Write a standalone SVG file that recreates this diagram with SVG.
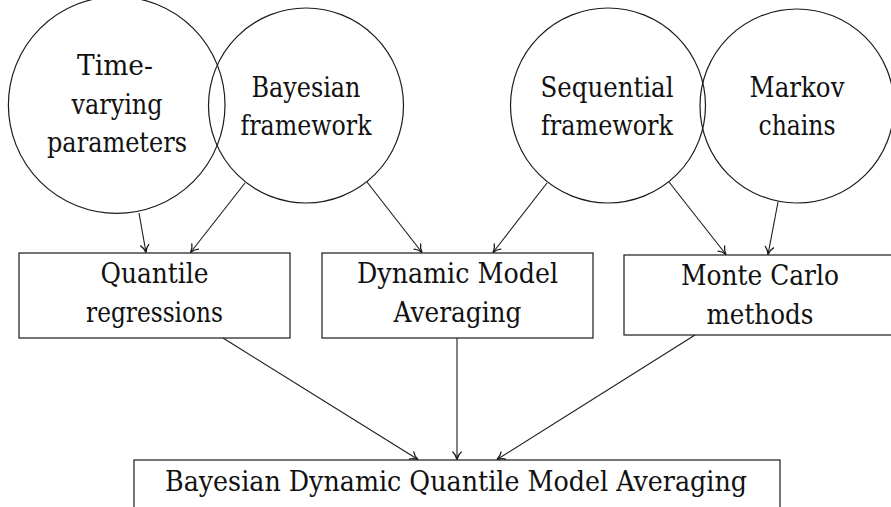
<svg xmlns="http://www.w3.org/2000/svg" width="891" height="507" viewBox="0 0 891 507">
  <style>
    .shape { fill: none; stroke: #1a1a1a; stroke-width: 1.2; }
    .edge { fill: none; stroke: #1a1a1a; stroke-width: 1.1; marker-end: url(#tip); }
    .lbl { font-family: 'DejaVu Serif', 'Liberation Serif', serif; font-size: 28px; fill: #111; text-anchor: middle; }
  </style>
  <defs>
    <marker id="tip" markerUnits="userSpaceOnUse" orient="auto" refX="0" refY="0" markerWidth="14" markerHeight="14" viewBox="-9 -7 11 14" overflow="visible">
      <path d="M-7.5,-4.2 C-5.5,-1.8 -2,-0.5 0,0 C-2,0.5 -5.5,1.8 -7.5,4.2" fill="none" stroke="#1a1a1a" stroke-width="1.3" stroke-linecap="round"/>
    </marker>
  </defs>
  <rect width="891" height="507" fill="#fff"/>

  <!-- top row: circular concept nodes -->
  <g id="time-varying">
    <circle class="shape" cx="116.7" cy="105" r="108.3"/>
    <text class="lbl" x="115" y="75" textLength="76" lengthAdjust="spacingAndGlyphs">Time-</text>
    <text class="lbl" x="117" y="113.5" textLength="91" lengthAdjust="spacingAndGlyphs">varying</text>
    <text class="lbl" x="117" y="152" textLength="140" lengthAdjust="spacingAndGlyphs">parameters</text>
  </g>
  <g id="bayesian-framework">
    <circle class="shape" cx="306" cy="105.5" r="97.5"/>
    <text class="lbl" x="306" y="97" textLength="109" lengthAdjust="spacingAndGlyphs">Bayesian</text>
    <text class="lbl" x="306" y="135" textLength="131" lengthAdjust="spacingAndGlyphs">framework</text>
  </g>
  <g id="sequential-framework">
    <circle class="shape" cx="608" cy="105.5" r="97.5"/>
    <text class="lbl" x="607" y="97" textLength="133" lengthAdjust="spacingAndGlyphs">Sequential</text>
    <text class="lbl" x="607" y="135" textLength="132" lengthAdjust="spacingAndGlyphs">framework</text>
  </g>
  <g id="markov-chains">
    <circle class="shape" cx="797" cy="106" r="97"/>
    <text class="lbl" x="797" y="97" textLength="95" lengthAdjust="spacingAndGlyphs">Markov</text>
    <text class="lbl" x="797" y="135" textLength="77" lengthAdjust="spacingAndGlyphs">chains</text>
  </g>

  <!-- middle row: method boxes -->
  <g id="quantile-regressions">
    <rect class="shape" x="19" y="253" width="271" height="85"/>
    <text class="lbl" x="154.5" y="283.3" textLength="108" lengthAdjust="spacingAndGlyphs">Quantile</text>
    <text class="lbl" x="154.5" y="321.7" textLength="137" lengthAdjust="spacingAndGlyphs">regressions</text>
  </g>
  <g id="dynamic-model-averaging">
    <rect class="shape" x="322" y="253" width="271" height="85"/>
    <text class="lbl" x="457.5" y="283.3" textLength="201" lengthAdjust="spacingAndGlyphs">Dynamic Model</text>
    <text class="lbl" x="457.5" y="321.7" textLength="128" lengthAdjust="spacingAndGlyphs">Averaging</text>
  </g>
  <g id="monte-carlo">
    <rect class="shape" x="624" y="255" width="272" height="80"/>
    <text class="lbl" x="760" y="285" textLength="158" lengthAdjust="spacingAndGlyphs">Monte Carlo</text>
    <text class="lbl" x="760" y="324" textLength="107" lengthAdjust="spacingAndGlyphs">methods</text>
  </g>

  <!-- bottom: combined method -->
  <g id="bdqma">
    <rect class="shape" x="134" y="460" width="646" height="70"/>
    <text class="lbl" x="456" y="491" textLength="582" lengthAdjust="spacingAndGlyphs">Bayesian Dynamic Quantile Model Averaging</text>
  </g>

  <!-- connectors -->
  <g id="connectors">
    <line class="edge" x1="139" y1="213" x2="146" y2="252.5"/>
    <line class="edge" x1="245" y1="183" x2="190.5" y2="252.5"/>
    <line class="edge" x1="367" y1="182" x2="422" y2="252.5"/>
    <line class="edge" x1="547" y1="183" x2="493" y2="252.5"/>
    <line class="edge" x1="669" y1="182" x2="726" y2="254.5"/>
    <line class="edge" x1="778" y1="202" x2="768" y2="254.5"/>
    <line class="edge" x1="223" y1="338" x2="418" y2="459.5"/>
    <line class="edge" x1="457" y1="338" x2="457" y2="459.5"/>
    <line class="edge" x1="695" y1="335" x2="497" y2="459.5"/>
  </g>
</svg>
